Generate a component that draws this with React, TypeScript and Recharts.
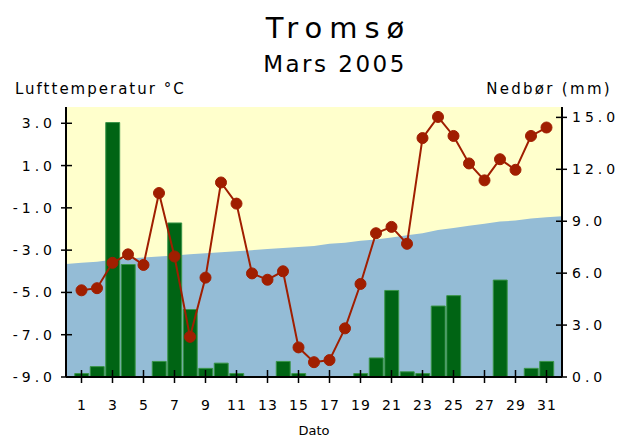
import React from "react";
import {
  ComposedChart,
  Area,
  Bar,
  Line,
  XAxis,
  YAxis,
  CartesianGrid,
} from "recharts";

// Days of March 2005
const days = [1, 2, 3, 4, 5, 6, 7, 8, 9, 10, 11, 12, 13, 14, 15, 16, 17, 18, 19, 20, 21, 22, 23, 24, 25, 26, 27, 28, 29, 30, 31];
// Daily mean air temperature (°C)
const temperature = [-4.9, -4.8, -3.6, -3.2, -3.7, -0.3, -3.3, -7.1, -4.3, 0.2, -0.8, -4.1, -4.4, -4.0, -7.6, -8.3, -8.2, -6.7, -4.6, -2.2, -1.9, -2.7, 2.3, 3.3, 2.4, 1.1, 0.3, 1.3, 0.8, 2.4, 2.8];
// Daily precipitation (mm), null = no precipitation
const precipitation = [0.2, 0.6, 14.7, 6.5, null, 0.9, 8.9, 3.9, 0.5, 0.8, 0.2, null, null, 0.9, 0.2, null, null, null, 0.2, 1.1, 5.0, 0.3, 0.2, 4.1, 4.7, null, null, 5.6, null, 0.5, 0.9];
// Normal temperature (°C), days 0..32 spanning the full plot
const normalDays = [0, 1, 2, 3, 4, 5, 6, 7, 8, 9, 10, 11, 12, 13, 14, 15, 16, 17, 18, 19, 20, 21, 22, 23, 24, 25, 26, 27, 28, 29, 30, 31, 32];
const normalTemp = [-3.65, -3.6, -3.55, -3.45, -3.4, -3.35, -3.3, -3.25, -3.2, -3.15, -3.1, -3.05, -3.0, -2.95, -2.9, -2.85, -2.8, -2.7, -2.65, -2.55, -2.5, -2.4, -2.3, -2.2, -2.05, -1.95, -1.85, -1.75, -1.65, -1.6, -1.5, -1.45, -1.4];

const xTicks = [1, 3, 5, 7, 9, 11, 13, 15, 17, 19, 21, 23, 25, 27, 29, 31];
const leftTicks = [-9, -7, -5, -3, -1, 1, 3];
const rightTicks = [0, 3, 6, 9, 12, 15];

const data = normalDays.map((d, i) => {
  const idx = days.indexOf(d);
  return {
    day: d,
    normal: normalTemp[i],
    temp: idx >= 0 ? temperature[idx] : null,
    rain: idx >= 0 ? precipitation[idx] : null,
  };
});

const FONT = "'DejaVu Sans', Verdana, sans-serif";
const RED = "#a01e00";

const XTick = (props: any) => {
  const { x, y, payload } = props;
  return (
    <g>
      <line x1={x} x2={x} y1={y - 7} y2={y + 6} stroke="#000" strokeWidth={1.5} />
      <text x={x + 0.5} y={y + 33} textAnchor="middle" fontFamily={FONT} fontSize={14} letterSpacing={1} fill="#000">
        {payload.value}
      </text>
    </g>
  );
};

const LeftTick = (props: any) => {
  const { x, y, payload } = props;
  return (
    <g>
      <line x1={x - 5} x2={x + 6} y1={y} y2={y} stroke="#000" strokeWidth={1.5} />
      <text x={x - 10} y={y + 5} textAnchor="end" fontFamily={FONT} fontSize={14} letterSpacing={4} fill="#000">
        {Number(payload.value).toFixed(1)}
      </text>
    </g>
  );
};

const RightTick = (props: any) => {
  const { x, y, payload } = props;
  return (
    <g>
      <line x1={x - 6} x2={x + 5} y1={y} y2={y} stroke="#000" strokeWidth={1.5} />
      <text x={x + 10} y={y + 5} textAnchor="start" fontFamily={FONT} fontSize={14} letterSpacing={4} fill="#000">
        {Number(payload.value).toFixed(1)}
      </text>
    </g>
  );
};

export default function App() {
  return (
    <div style={{ position: "absolute", left: 0, top: 0, width: 618, height: 438, background: "#fff" }}>
      <ComposedChart
        width={618}
        height={438}
        data={data}
        margin={{ top: 107, right: 6, bottom: 21, left: 6 }}
      >
        <CartesianGrid horizontal={false} vertical={false} fill="#ffffcc" />
        <XAxis
          dataKey="day"
          type="number"
          domain={[0, 32]}
          ticks={xTicks}
          allowDataOverflow
          height={40}
          tickSize={0}
          tickMargin={0}
          tickLine={false}
          axisLine={{ stroke: "#000", strokeWidth: 2 }}
          tick={<XTick />}
          interval={0}
        />
        <XAxis
          xAxisId="top"
          dataKey="day"
          type="number"
          domain={[0, 32]}
          orientation="top"
          height={0}
          tick={false}
          tickLine={false}
          axisLine={{ stroke: "#333", strokeWidth: 1.5 }}
        />
        <YAxis
          yAxisId="left"
          orientation="left"
          domain={[-9, 3.77]}
          ticks={leftTicks}
          allowDataOverflow
          width={60}
          tickSize={0}
          tickMargin={0}
          tickLine={false}
          axisLine={{ stroke: "#000", strokeWidth: 2 }}
          tick={<LeftTick />}
          interval={0}
        />
        <YAxis
          yAxisId="right"
          orientation="right"
          domain={[0, 15.6]}
          ticks={rightTicks}
          allowDataOverflow
          width={50}
          tickSize={0}
          tickMargin={0}
          tickLine={false}
          axisLine={{ stroke: "#000", strokeWidth: 2 }}
          tick={<RightTick />}
          interval={0}
        />
        <Area
          yAxisId="left"
          dataKey="normal"
          type="linear"
          baseValue={-9}
          fill="#94bcd6"
          fillOpacity={1}
          stroke="none"
          isAnimationActive={false}
          dot={false}
          activeDot={false}
        />
        <Bar
          yAxisId="right"
          dataKey="rain"
          barSize={16}
          fill="#006414"
          stroke="#3a9448"
          strokeWidth={1}
          isAnimationActive={false}
        />
        <Line
          yAxisId="left"
          dataKey="temp"
          type="linear"
          stroke={RED}
          strokeWidth={2}
          dot={{ r: 5.5, fill: RED, stroke: RED, strokeWidth: 1 }}
          activeDot={false}
          isAnimationActive={false}
        />
      </ComposedChart>
      <svg
        width={618}
        height={438}
        style={{ position: "absolute", left: 0, top: 0, pointerEvents: "none" }}
      >
        <text x={338.5} y={38} textAnchor="middle" fontFamily={FONT} fontSize={29} letterSpacing={7} fill="#000">
          Tromsø
        </text>
        <text x={335} y={71.5} textAnchor="middle" fontFamily={FONT} fontSize={23} letterSpacing={2.5} fill="#000">
          Mars 2005
        </text>
        <text x={15} y={94} textAnchor="start" fontFamily={FONT} fontSize={15} letterSpacing={2} fill="#000">
          Lufttemperatur °C
        </text>
        <text x={612} y={94} textAnchor="end" fontFamily={FONT} fontSize={15} letterSpacing={2.3} fill="#000">
          Nedbør (mm)
        </text>
        <text x={314} y={435} textAnchor="middle" fontFamily={FONT} fontSize={13} fill="#000">
          Dato
        </text>
      </svg>
    </div>
  );
}
